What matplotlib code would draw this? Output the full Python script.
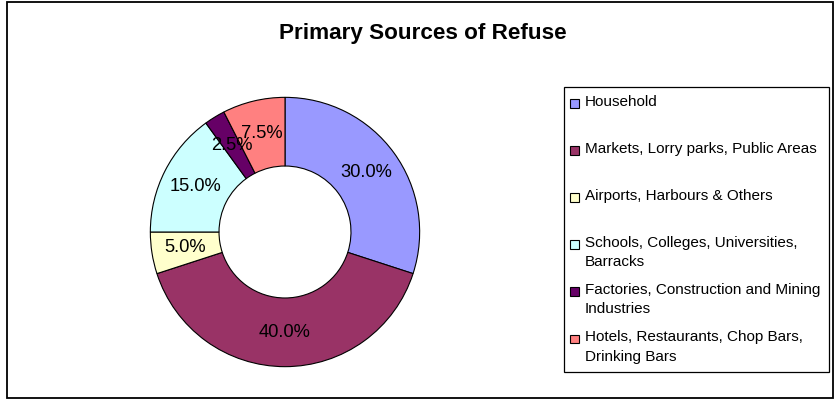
import matplotlib
matplotlib.use('Agg')
import matplotlib.pyplot as plt
from matplotlib.patches import Rectangle

# Data
labels = ['Household',
          'Markets, Lorry parks, Public Areas',
          'Airports, Harbours & Others',
          'Schools, Colleges, Universities,\nBarracks',
          'Factories, Construction and Mining\nIndustries',
          'Hotels, Restaurants, Chop Bars,\nDrinking Bars']
shares = [30.0, 40.0, 5.0, 15.0, 2.5, 7.5]
colors = ['#9999FF', '#993366', '#FFFFCC', '#CCFFFF', '#660066', '#FF8080']

plt.rcParams['font.family'] = ['Liberation Sans', 'DejaVu Sans']

W, H = 835, 400
fig = plt.figure(figsize=(W / 100, H / 100), dpi=100)

def fx(px):
    return px / W

def fy(py):
    return 1 - py / H

# outer chart frame
fig.patches.append(Rectangle((fx(6.5), fy(398)), fx(833) - fx(6.5), fy(1.5) - fy(398),
                             transform=fig.transFigure, fill=False,
                             edgecolor='black', linewidth=1.3))

fig.text(fx(423), fy(34), 'Primary Sources of Refuse', fontsize=16.2,
         fontweight='bold', ha='center', va='center')

# donut
cx, cy, r = 285, 232, 136
ax = fig.add_axes([fx(cx - r), fy(cy + r), fx(2 * r), (2 * r) / H])
wedges, texts, autotexts = ax.pie(
    shares, colors=colors, startangle=90, counterclock=False, radius=1,
    autopct='%1.1f%%', pctdistance=0.75,
    wedgeprops=dict(width=0.51, edgecolor='black', linewidth=0.8),
    textprops=dict(fontsize=13.2, color='black'))
ax.set_xlim(-1.01, 1.01)
ax.set_ylim(-1.01, 1.01)
ax.set_aspect('equal')
ax.axis('off')

# legend box drawn by hand to match the layout
fig.patches.append(Rectangle((fx(564), fy(372)), fx(829) - fx(564), fy(87) - fy(372),
                             transform=fig.transFigure, fill=False,
                             edgecolor='black', linewidth=0.9))
y0, step = 103, 47.1
for i, (lab, col) in enumerate(zip(labels, colors)):
    y = y0 + step * i
    fig.patches.append(Rectangle((fx(570), fy(y + 4.5)), fx(8.5), 8.5 / H,
                                 transform=fig.transFigure, facecolor=col,
                                 edgecolor='black', linewidth=0.8))
    fig.text(fx(585), fy(y - 8.5), lab, fontsize=11.0, ha='left', va='top',
             linespacing=1.5)

fig.savefig('out.png', dpi=100)
